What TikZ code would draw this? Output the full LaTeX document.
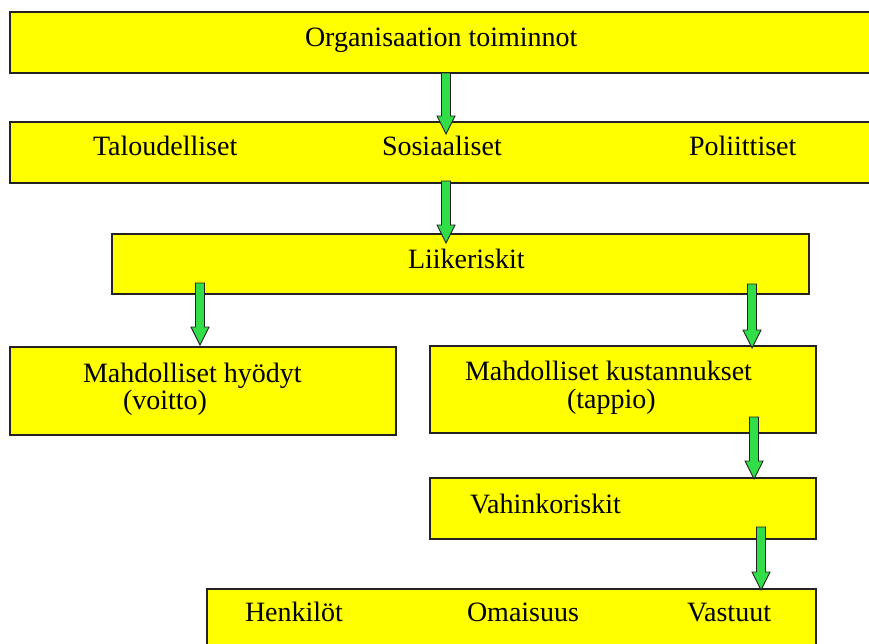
\documentclass[tikz,border=0pt]{standalone}
\usepackage{fontspec}
\setmainfont{Liberation Serif}
\usetikzlibrary{calc}
\definecolor{boxyellow}{RGB}{255,255,0}
\definecolor{arrowgreen}{RGB}{50,222,72}
\definecolor{edgegray}{RGB}{35,35,35}
\newcommand\blockarrow[2]{%
  \draw[garrow] ($(#1)+(-4.5,0)$) -- ($(#2)+(-4.5,-18)$) -- ($(#2)+(-9,-18)$) -- (#2)
    -- ($(#2)+(9,-18)$) -- ($(#2)+(4.5,-18)$) -- ($(#1)+(4.5,0)$) -- cycle;}
\begin{document}
\begin{tikzpicture}[x=1pt,y=-1pt,
  box/.style={draw=edgegray, line width=1.3pt, fill=boxyellow, anchor=north west, inner sep=0pt, outer sep=0pt},
  lbl/.style={anchor=base west, inner sep=0pt, outer sep=0pt, font=\fontsize{28}{28}\selectfont, text=black},
  garrow/.style={draw=edgegray, line width=0.9pt, fill=arrowgreen, line join=miter}]
\useasboundingbox (0,0) rectangle (869,643);
\fill[white] (0,0) rectangle (869,643);
\clip (0,0) rectangle (869,643);
% boxes
\node[box, minimum width=870pt, minimum height=61pt] (org) at (10,12) {};
\node[box, minimum width=870pt, minimum height=61pt] (cat) at (10,122) {};
\node[box, minimum width=697pt, minimum height=60pt] (liike) at (112,234) {};
\node[box, minimum width=386pt, minimum height=88pt] (hyod) at (10,347) {};
\node[box, minimum width=386pt, minimum height=87pt] (kust) at (430,346) {};
\node[box, minimum width=386pt, minimum height=61pt] (vahi) at (430,478) {};
\node[box, minimum width=609pt, minimum height=80pt] (kohde) at (207,589) {};
% texts
\node[lbl] (t1) at (305,46) {Organisaation toiminnot};
\node[lbl] (t2a) at (93,155) {Taloudelliset};
\node[lbl] (t2b) at (382,155) {Sosiaaliset};
\node[lbl] (t2c) at (689,155) {Poliittiset};
\node[lbl] (t3) at (408,268) {Liikeriskit};
\node[lbl] (t4a) at (83,382) {Mahdolliset hyödyt};
\node[lbl] (t4b) at (123,409) {(voitto)};
\node[lbl] (t5a) at (465,380) {Mahdolliset kustannukset};
\node[lbl] (t5b) at (567,408) {(tappio)};
\node[lbl] (t6) at (470,513) {Vahinkoriskit};
\node[lbl] (t7a) at (245,621) {Henkilöt};
\node[lbl] (t7b) at (467,621) {Omaisuus};
\node[lbl] (t7c) at (687,621) {Vastuut};
% arrows
\coordinate (a1s) at (446,73);  \coordinate (a1t) at (446,134);
\coordinate (a2s) at (446,181); \coordinate (a2t) at (446,243);
\coordinate (a3s) at (200,283); \coordinate (a3t) at (200,345);
\coordinate (a4s) at (752,284); \coordinate (a4t) at (752,348);
\coordinate (a5s) at (754,417); \coordinate (a5t) at (754,479);
\coordinate (a6s) at (761,527); \coordinate (a6t) at (761,590);
\blockarrow{a1s}{a1t}
\blockarrow{a2s}{a2t}
\blockarrow{a3s}{a3t}
\blockarrow{a4s}{a4t}
\blockarrow{a5s}{a5t}
\blockarrow{a6s}{a6t}
\end{tikzpicture}
\end{document}
